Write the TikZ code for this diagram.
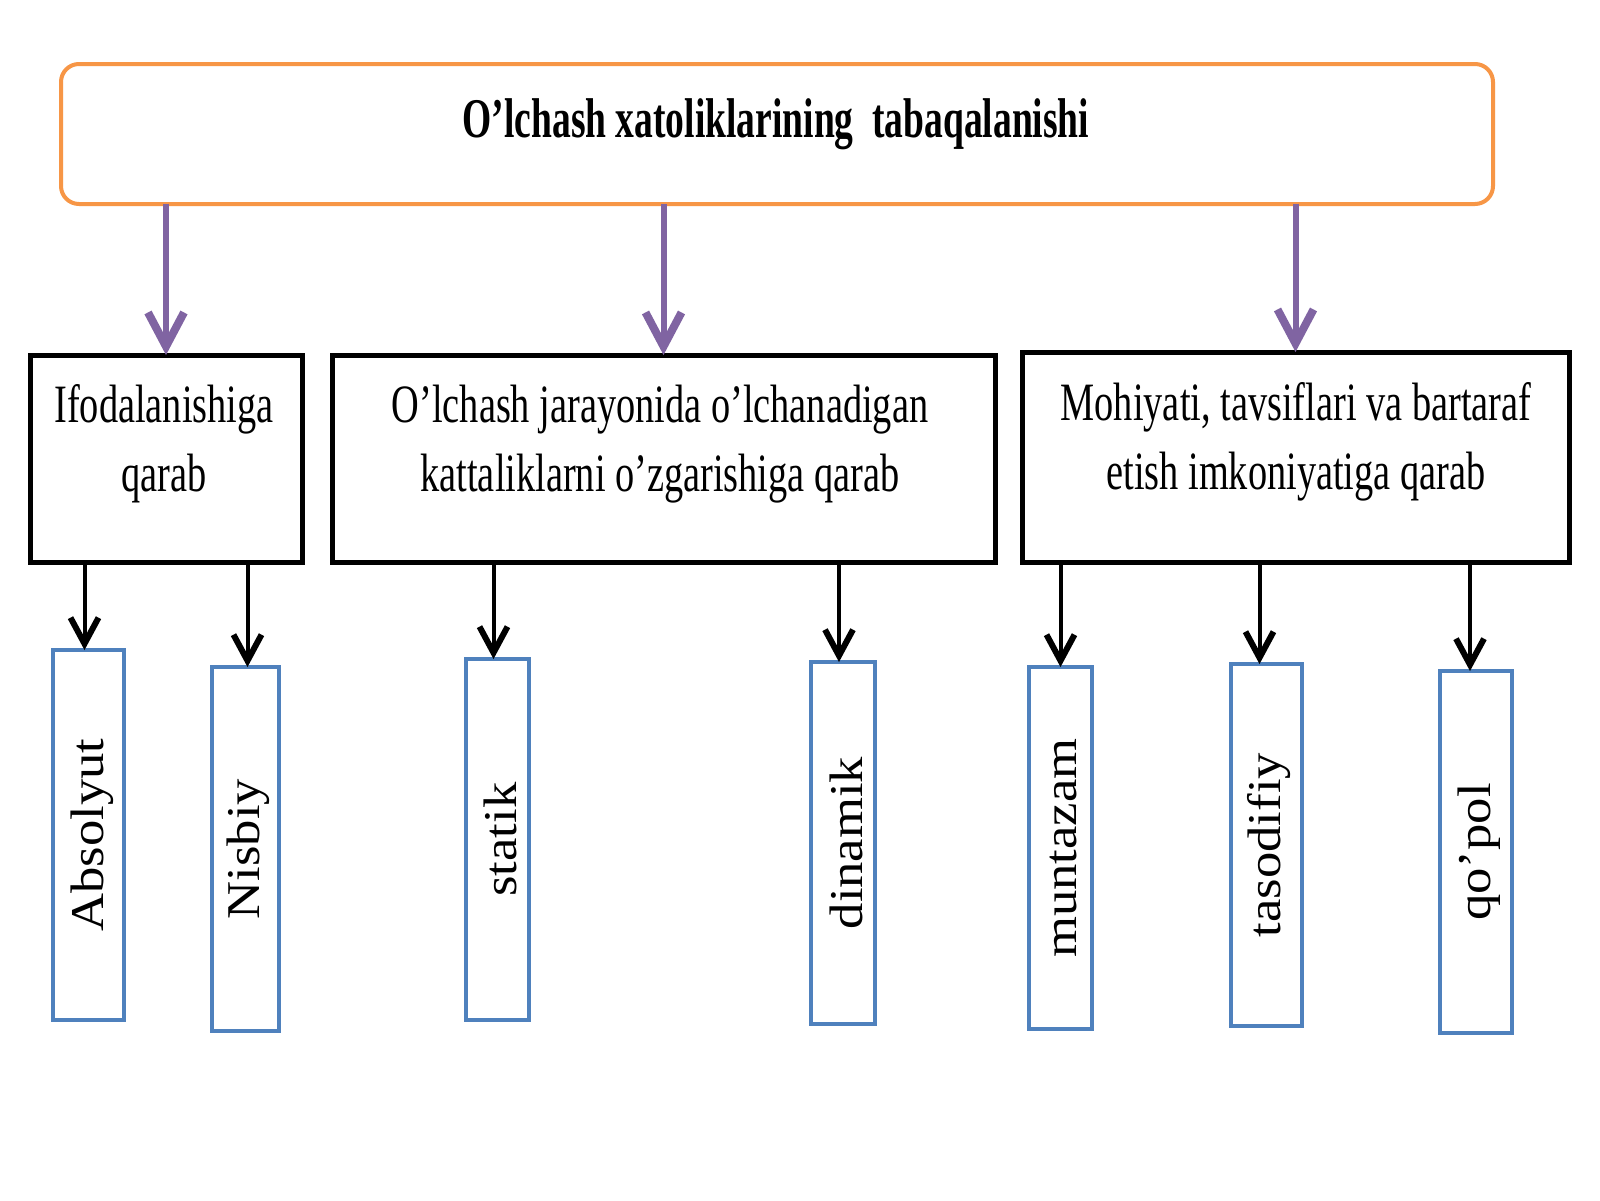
\documentclass[tikz,border=0pt]{standalone}
\usepackage{fontspec}
\setmainfont{Liberation Serif}
\newfontfamily\narrowserif[FakeStretch=0.71]{Liberation Serif}
\newfontfamily\titleserif[FakeStretch=0.67]{Liberation Serif}
\newfontfamily\wideserif[FakeStretch=1.12]{Liberation Serif}
\usetikzlibrary{arrows.meta}
\definecolor{orangeline}{HTML}{F79646}
\definecolor{purplearrow}{HTML}{8064A2}
\definecolor{blueline}{HTML}{4F81BD}
\tikzset{
  topbox/.style={draw=orangeline, line width=4pt, rounded corners=18pt, fill=white, inner sep=0pt, outer sep=0pt},
  midbox/.style={draw=black, line width=5pt, inner sep=0pt, outer sep=0pt},
  leafbox/.style={draw=blueline, line width=4pt, inner sep=0pt, outer sep=0pt},
  midtext/.style={align=center, font=\narrowserif\fontsize{54}{69}\selectfont, inner sep=0pt},
  leaftext/.style={rotate=90, font=\wideserif\fontsize{47}{56}\selectfont, inner sep=0pt},
  purplearr/.style={draw=purplearrow, line width=6pt, -{Straight Barb[length=34pt, width=36pt, line width=8pt]}},
  blackarr/.style={draw=black, line width=4pt, -{Straight Barb[length=26pt, width=28pt, line width=6pt]}},
}
\begin{document}
\begin{tikzpicture}[x=1pt, y=-1pt]
\useasboundingbox[fill=white] (0,0) rectangle (1600,1200);
% top box
\node[topbox, minimum width=1432pt, minimum height=140pt] (top) at (777,134) {};
\node[font=\titleserif\bfseries\fontsize{56}{60}\selectfont, inner sep=0pt] (title) at (776,124) {O’lchash xatoliklarining\ \ tabaqalanishi};
% middle boxes
\node[midbox, minimum width=272pt, minimum height=207pt] (m1) at (166,458.5) {};
\node[midbox, minimum width=663pt, minimum height=207pt] (m2) at (663.5,458.5) {};
\node[midbox, minimum width=547pt, minimum height=210pt] (m3) at (1295.5,457) {};
\node[midtext] (m1t) at (164,444) {Ifodalanishiga\\qarab};
\node[midtext] (m2t) at (660,444) {O’lchash jarayonida o’lchanadigan\\kattaliklarni o’zgarishiga qarab};
\node[midtext] (m3t) at (1296,442) {Mohiyati, tavsiflari va bartaraf\\etish imkoniyatiga qarab};
% leaf boxes
\node[leafbox, minimum width=71pt, minimum height=370pt] (b1) at (88.5,835) {};
\node[leafbox, minimum width=67pt, minimum height=364pt] (b2) at (245.5,849) {};
\node[leafbox, minimum width=63pt, minimum height=361pt] (b3) at (497.5,839.5) {};
\node[leafbox, minimum width=64pt, minimum height=362pt] (b4) at (843,843) {};
\node[leafbox, minimum width=63pt, minimum height=362pt] (b5) at (1060.5,848) {};
\node[leafbox, minimum width=71pt, minimum height=362pt] (b6) at (1266.5,845) {};
\node[leafbox, minimum width=72pt, minimum height=362pt] (b7) at (1476,852) {};
\node[leaftext] (t1) at ([xshift=4pt]b1.center) {Absolyut};
\node[leaftext] (t2) at ([xshift=3pt]b2.center) {Nisbiy};
\node[leaftext] (t3) at ([xshift=3pt]b3.center) {statik};
\node[leaftext] (t4) at ([xshift=3pt]b4.center) {dinamik};
\node[leaftext] (t5) at ([xshift=3pt]b5.center) {muntazam};
\node[leaftext] (t6) at ([xshift=3pt]b6.center) {tasodifiy};
\node[leaftext] (t7) at ([xshift=3pt]b7.center) {qo’pol};
% purple arrows
\draw[purplearr] (top.south -| m1.north) -- (m1.north);
\draw[purplearr] (top.south -| m2.north) -- (m2.north);
\draw[purplearr] (top.south -| m3.north) -- (m3.north);
% black arrows
\draw[blackarr] ([xshift=-4pt]m1.south -| b1.north) -- ([xshift=-4pt]b1.north);
\draw[blackarr] ([xshift=2pt]m1.south -| b2.north) -- ([xshift=2pt]b2.north);
\draw[blackarr] ([xshift=-4pt]m2.south -| b3.north) -- ([xshift=-4pt]b3.north);
\draw[blackarr] ([xshift=-4pt]m2.south -| b4.north) -- ([xshift=-4pt]b4.north);
\draw[blackarr] (m3.south -| b5.north) -- (b5.north);
\draw[blackarr] ([xshift=-7pt]m3.south -| b6.north) -- ([xshift=-7pt]b6.north);
\draw[blackarr] ([xshift=-6pt]m3.south -| b7.north) -- ([xshift=-6pt]b7.north);
\end{tikzpicture}
\end{document}
